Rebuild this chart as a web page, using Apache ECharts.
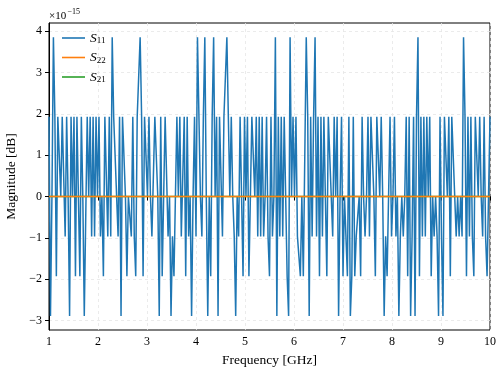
<!DOCTYPE html>
<html><head><meta charset="utf-8">
<script src="https://cdn.jsdelivr.net/npm/echarts@6/dist/echarts.min.js"></script>
<style>html,body{margin:0;padding:0;background:#fff}#c{width:504px;height:376px}</style>
</head><body><div id="c"></div>
<script>
// Frequency sampling grid (GHz)
const freqStart = 1, freqStop = 10, nPoints = 301;
// |S11| in units of 1e-15 dB (floating point noise levels)
const s11Mag = [
 1.929,-2.893,0,3.857,1.929,-1.929,1.929,1.929,0,1.929,
 1.929,-0.964,1.929,0,-2.893,1.929,0,1.929,-1.929,1.929,
 1.929,-1.929,1.929,0,-2.893,-2.893,1.929,0,1.929,-0.964,
 1.929,-0.964,1.929,0,1.929,-0.964,0,-1.929,1.929,1.929,
 -0.964,1.929,-0.964,3.857,1.929,1.929,0,-0.964,1.929,-2.893,
 1.929,1.929,0,-1.929,0,0,-0.964,1.929,-0.964,-1.929,
 1.929,1.929,3.857,1.929,-1.929,1.929,1.929,0,1.929,0,
 -0.964,-0.964,1.929,1.929,0,-2.893,1.929,-1.929,-1.929,1.929,
 1.929,-0.964,0,-2.893,-0.964,-1.929,-1.929,1.929,0,1.929,
 -0.964,-0.964,1.929,-1.929,1.929,-0.964,0,-2.893,0,1.929,
 -0.964,3.857,1.929,0,-0.964,1.929,3.857,0,-2.893,0,
 -1.929,1.929,3.857,0,1.929,-2.893,1.929,1.929,-0.964,1.929,
 1.929,3.857,1.929,0,1.929,0,-0.964,-2.893,0,-0.964,
 1.929,0,-1.929,1.929,0,1.929,-1.929,-1.929,1.929,1.929,
 0,1.929,-0.964,1.929,-0.964,1.929,-0.964,0,1.929,-0.964,
 -1.929,1.929,-0.964,0,3.857,-2.893,1.929,-0.964,1.929,-0.964,
 1.929,0,-1.929,-2.893,3.857,0,1.929,0,1.929,-0.964,
 -0.964,-1.929,0,-1.929,-1.929,3.857,1.929,-2.893,1.929,-0.964,
 1.929,3.857,-0.964,1.929,-1.929,1.929,-0.964,1.929,0,-1.929,
 1.929,1.929,0,-0.964,1.929,0,1.929,-2.893,0,1.929,
 -1.929,0,-0.964,-1.929,1.929,-2.893,-1.929,1.929,-1.929,-0.964,
 -0.964,0,-1.929,1.929,0,-0.964,0,1.929,-0.964,1.929,
 1.929,0,-1.929,1.929,1.929,0,1.929,0,-2.893,-0.964,
 -1.929,-1.929,1.929,-0.964,0,1.929,-0.964,0,-2.893,-0.964,
 0,-0.964,0,1.929,-1.929,1.929,-2.893,-0.964,1.929,-2.893,
 1.929,3.857,-1.929,1.929,-0.964,1.929,-0.964,1.929,0,1.929,
 -1.929,0,-0.964,0,-0.964,-2.893,1.929,-0.964,-2.893,1.929,
 1.929,0,1.929,-1.929,1.929,1.929,0,-0.964,0,-0.964,
 0,-0.964,3.857,1.929,-1.929,1.929,-0.964,1.929,-0.964,-1.929,
 1.929,1.929,0,1.929,0,-0.964,1.929,-0.964,-1.929,-1.929,1.929
];
// |S22| and |S21|: flat at 0 across the band
const s22Freq = [1, 10], s22Mag = [0, 0];
const s21Freq = [1, 10], s21Mag = [0, 0];
const xTicks = [1,2,3,4,5,6,7,8,9,10];
const yTicks = [-3,-2,-1,0,1,2,3,4];
const seriesNames = ['S11','S22','S21'];
const subs = {S11:'11', S22:'22', S21:'21'};

const step = (freqStop - freqStart) / (nPoints - 1);
const s11Data = s11Mag.map((v, i) => [freqStart + i * step, v]);
const pair = (f, m) => f.map((x, i) => [x, m[i]]);

const FONT = 'Liberation Serif';
const fmt = v => (v < 0 ? '\u2212' + Math.abs(v) : String(v));
const chart = echarts.init(document.getElementById('c'), null, {renderer: 'canvas'});
chart.setOption({
  animation: false,
  backgroundColor: '#fff',
  grid: {left: 49, right: 14, top: 23, bottom: 46, show: true, borderColor: '#000', borderWidth: 1, backgroundColor: 'transparent', containLabel: false, outerBoundsMode: 'none'},
  xAxis: {
    type: 'value', min: 1, max: 10, interval: 1,
    name: 'Frequency [GHz]', nameLocation: 'middle', nameGap: 23,
    nameTextStyle: {fontFamily: FONT, fontSize: 13.5, color: '#000'},
    axisLine: {lineStyle: {color: '#000', width: 1}},
    axisTick: {length: 4, lineStyle: {color: '#000'}, customValues: xTicks},
    axisLabel: {fontFamily: FONT, fontSize: 12, color: '#000', margin: 6, customValues: xTicks, formatter: v => fmt(v)},
    splitLine: {show: true, lineStyle: {color: '#e6e6e6', type: [3, 3], width: 0.8}}
  },
  yAxis: {
    type: 'value', min: -3.23, max: 4.2,
    name: 'Magnitude [dB]', nameLocation: 'middle', nameGap: 29, nameRotate: 90,
    nameTextStyle: {fontFamily: FONT, fontSize: 13.5, color: '#000'},
    axisLine: {show: true, lineStyle: {color: '#000', width: 1}},
    axisTick: {show: true, length: 4, lineStyle: {color: '#000'}, customValues: yTicks},
    axisLabel: {fontFamily: FONT, fontSize: 12, color: '#000', margin: 7, customValues: yTicks, formatter: v => fmt(v)},
    splitLine: {show: true, lineStyle: {color: '#e6e6e6', type: [3, 3], width: 0.8}}
  },
  legend: {
    orient: 'vertical', left: 57, top: 26, itemGap: 5, itemWidth: 23, itemHeight: 10,
    icon: 'path://M0,4.2 L23,4.2 L23,5.8 L0,5.8 Z',
    data: seriesNames,
    formatter: n => '{s|S}{b|' + subs[n] + '}',
    textStyle: {
      fontFamily: FONT, color: '#000',
      rich: {
        s: {fontFamily: FONT, fontStyle: 'italic', fontSize: 13.5, color: '#000'},
        b: {fontFamily: FONT, fontSize: 9, color: '#000', padding: [6, 0, 0, 0]}
      }
    }
  },
  graphic: [
    {type: 'text', left: 49, top: 11, style: {text: '\u00d710', font: '11px "Liberation Serif"', fill: '#000'}},
    {type: 'text', left: 67.5, top: 8, style: {text: '\u221215', font: '8px "Liberation Serif"', fill: '#000'}}
  ],
  series: [
    {name: 'S11', type: 'line', data: s11Data, showSymbol: false, symbol: 'none', color: '#1f77b4', lineStyle: {width: 1.5}, z: 2},
    {name: 'S22', type: 'line', data: pair(s22Freq, s22Mag), showSymbol: false, symbol: 'none', color: '#ff7f0e', lineStyle: {width: 1.5}, z: 4},
    {name: 'S21', type: 'line', data: pair(s21Freq, s21Mag), showSymbol: false, symbol: 'none', color: '#2ca02c', lineStyle: {width: 1.5}, z: 3}
  ]
});
</script></body></html>
